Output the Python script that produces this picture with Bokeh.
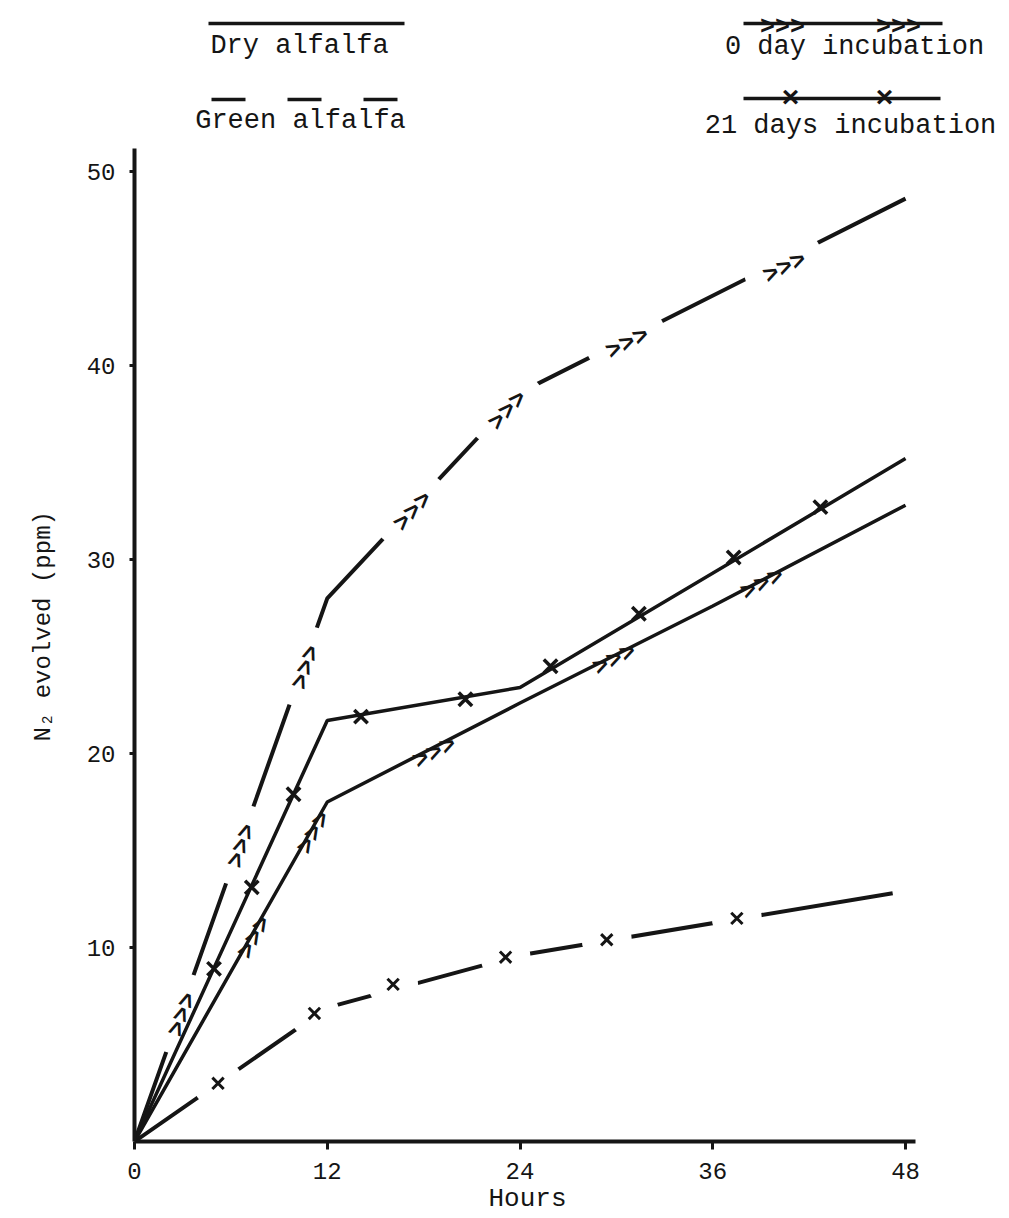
import numpy as np
from bokeh.plotting import figure
from bokeh.models import Range1d, FixedTicker, Label, Arrow, Title
from bokeh.core.properties import value
from bokeh.embed import file_html
from bokeh.resources import INLINE

# ---------------- data ----------------
hours_ticks = [0, 12, 24, 36, 48]
ppm_ticks = [10, 20, 30, 40, 50]

dry0_x = [0, 12, 24, 36, 48]
dry0_y = [0, 17.5, 22.6, 27.6, 32.8]
dry21_x = [0, 12, 24, 48]
dry21_y = [0, 21.7, 23.4, 35.2]
green0_x = [0, 12, 24, 48]
green0_y = [0, 28.0, 38.6, 48.6]
green21_x = [0, 12, 24, 47.2]
green21_y = [0, 6.9, 9.6, 12.8]

# marker positions along the curves
dry0_mx = [7.3, 11.0, 18.6, 29.8, 39.0]
dry0_my = [10.6, 16.0, 20.2, 25.0, 28.9]
dry21_mx = [4.95, 7.3, 9.9, 14.1, 20.6, 25.9, 31.4, 37.3, 42.7]
dry21_my = [8.9, 13.1, 17.9, 21.9, 22.8, 24.5, 27.2, 30.1, 32.7]
green0_mx = [2.8, 6.5, 10.5, 17.2, 23.1, 30.6, 40.4]
green0_my = [6.6, 15.3, 24.5, 32.6, 37.8, 41.3, 45.2]
green21_mx = [5.2, 11.2, 16.1, 23.1, 29.4, 37.5]
green21_my = [3.0, 6.6, 8.1, 9.5, 10.4, 11.5]

legend_material = ["Dry alfalfa", "Green alfalfa"]
legend_incubation = ["0 day incubation", "21 days incubation"]
x_label = "Hours"
y_label = "N\u2082 evolved (ppm)"

# ---------------- layout ----------------
W, H = 1007, 1218
ML, MR, MT, MB = 132, 2, 0, 77
FW, FH = W - ML - MR, H - MT - MB
SX, SY = 16.1, 19.4            # pixels per hour, pixels per ppm
XMAX, YMAX = FW / SX, FH / SY
INK = "#151515"
FONT = "Liberation Mono"

p = figure(width=W, height=H, output_backend="svg", toolbar_location=None,
           x_range=Range1d(0, XMAX), y_range=Range1d(0, YMAX),
           min_border_left=ML, min_border_right=MR, min_border_top=MT,
           min_border_bottom=MB)
p.outline_line_color = None
p.grid.visible = False
p.background_fill_color = "white"
p.border_fill_color = "white"

for ax in (p.xaxis[0], p.yaxis[0]):
    ax.axis_line_width = 4
    ax.axis_line_color = INK
    ax.major_tick_line_width = 3
    ax.major_tick_line_color = INK
    ax.minor_tick_line_color = None
    ax.major_tick_in = 0
    ax.major_label_text_font = FONT
    ax.major_label_text_font_size = "24px"
    ax.major_label_text_color = INK

p.xaxis.ticker = FixedTicker(ticks=hours_ticks)
p.yaxis.ticker = FixedTicker(ticks=ppm_ticks)
p.xaxis.bounds = (0, 48.6)
p.yaxis.bounds = (0, 51.2)
p.xaxis.major_tick_out = 8
p.xaxis.major_label_standoff = 13
p.yaxis.major_tick_out = 5
p.yaxis.major_label_standoff = 14

# axis titles as side titles so that they can be offset along the axis
p.add_layout(Title(text=x_label, align="left", offset=354, standoff=0,
                   text_font=FONT, text_font_size="26px", text_font_style="normal",
                   text_color=INK), "below")
p.add_layout(Title(text=y_label, align="left", offset=400, standoff=54,
                   text_font=FONT, text_font_size="24px", text_font_style="normal",
                   text_color=INK), "left")


def seg_angles(xs, ys, mx):
    out = []
    for m in mx:
        i = int(np.searchsorted(xs, m)) - 1
        i = max(0, min(i, len(xs) - 2))
        slope = (ys[i + 1] - ys[i]) / (xs[i + 1] - xs[i])
        out.append(float(np.arctan2(slope * SY, SX)))
    return out


# green curves: broken only where a marker sits
p.line(green0_x, green0_y, line_width=4, line_color=INK)
p.line(green21_x, green21_y, line_width=4, line_color=INK)
p.scatter(green0_mx, green0_my, size=82, marker="circle", fill_color="white", line_color=None)
p.scatter(green21_mx, green21_my, size=50, marker="circle", fill_color="white", line_color=None)

# dry (solid) curves
p.line(dry0_x, dry0_y, line_width=3.5, line_color=INK)
p.line(dry21_x, dry21_y, line_width=3.5, line_color=INK)

# markers: >>> for 0 day, x for 21 days
DROP = 4.0  # px, moves the chevrons' glyph centre onto the line
for mx, my, xs, ys in ((green0_mx, green0_my, green0_x, green0_y),
                       (dry0_mx, dry0_my, dry0_x, dry0_y)):
    ang = seg_angles(xs, ys, mx)
    p.text(x=mx, y=my, text=[">>>"] * len(mx), angle=ang,
           x_offset=[DROP * np.sin(a) for a in ang],
           y_offset=[DROP * np.cos(a) for a in ang],
           text_font=value(FONT), text_font_size="25px", text_font_style="bold",
           text_align="center", text_baseline="middle", text_color=INK)

p.scatter(green21_mx, green21_my, marker="x", size=16, line_width=3, line_color=INK)
p.scatter(dry21_mx, dry21_my, marker="x", size=19, line_width=3.5, line_color=INK)


# ---------------- legend (screen units, relative to the frame) ----------------
def seg(x0, x1, y, dash="solid"):
    p.add_layout(Arrow(end=None, x_start=x0, y_start=y, x_end=x1, y_end=y,
                       start_units="screen", end_units="screen",
                       line_width=3.5, line_color=INK, line_dash=dash))


def lab(text, x, y, size, style="normal"):
    p.add_layout(Label(x=x, y=y, x_units="screen", y_units="screen", text=text,
                       text_font=FONT, text_font_size=size, text_font_style=style,
                       text_align="center", text_baseline="middle",
                       text_color=INK))


seg(74, 270, 1118)
lab(legend_material[0], 165, 1096, "27px")
seg(77, 268, 1042, "34 42")
lab(legend_material[1], 166, 1021, "27px")

seg(609, 808, 1118)
lab(">>>", 648, 1114, "25px", style="bold")
lab(">>>", 764, 1114, "25px", style="bold")
lab(legend_incubation[0], 720, 1095, "27px")

seg(609, 806, 1043)
lab("\u00d7", 656, 1043, "30px", style="bold")
lab("\u00d7", 750, 1043, "30px", style="bold")
lab(legend_incubation[1], 716, 1016, "27px")

open("out.html", "w").write(file_html(p, INLINE))
